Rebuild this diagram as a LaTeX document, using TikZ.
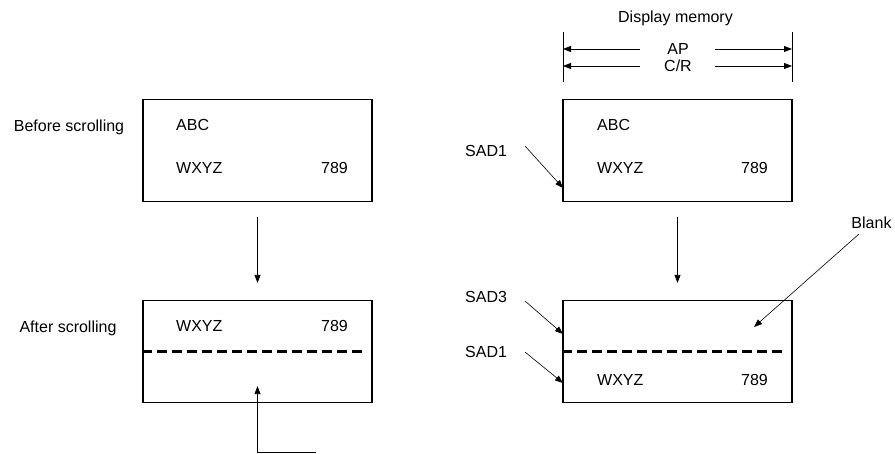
\documentclass[tikz,border=0pt]{standalone}
\usepackage{fontspec}
\setmainfont{Liberation Sans}
\usetikzlibrary{arrows.meta}
\begin{document}
\begin{tikzpicture}[x=1pt,y=-1pt,
  every node/.style={font=\fontsize{16}{19}\selectfont, inner sep=0pt},
  box/.style={draw, line width=1.2pt, minimum width=229pt, minimum height=102pt, inner sep=0pt},
  arr/.style={line width=0.8pt, -{Triangle[length=8pt,width=6pt]}},
  sarr/.style={line width=0.6pt, -{Triangle[length=8pt,width=6pt]}},
  dashline/.style={line width=2.5pt, dash pattern=on 10pt off 5pt},
  lbl/.style={anchor=base west},
  rlbl/.style={anchor=base east},
]
\useasboundingbox (0,0) rectangle (895,453);

% boxes
\node[box] (b1) at (257.5,150.5) {};
\node[box] (b2) at (257.5,351.5) {};
\node[box] (b3) at (677.5,150.5) {};
\node[box] (b4) at (677.5,351.5) {};

% left side labels
\node[anchor=base] (before) at (69,131.7) {Before scrolling};
\node[anchor=base] (after) at (68,332.7) {After scrolling};

% box contents
\node[lbl] (abc1) at (176,130.7) {ABC};
\node[lbl] (wx1) at (176,173.7) {WXYZ};
\node[rlbl] (n1) at (348,173.7) {789};
\node[lbl] (wx2) at (176,331.7) {WXYZ};
\node[rlbl] (n2) at (348,331.7) {789};
\node[lbl] (abc3) at (597,130.7) {ABC};
\node[lbl] (wx3) at (597,173.7) {WXYZ};
\node[rlbl] (n3) at (768,173.7) {789};
\node[lbl] (wx4) at (597,385.7) {WXYZ};
\node[rlbl] (n4) at (768,385.7) {789};

% dashed lines
\draw[dashline] (b2.west) -- ([xshift=-7pt]b2.east);
\draw[dashline] (b4.west) -- ([xshift=-7pt]b4.east);

% vertical arrows between boxes
\draw[arr] ([yshift=-15pt]b1.south) -- ([yshift=17pt]b2.north);
\draw[arr] ([yshift=-15pt]b3.south) -- ([yshift=17pt]b4.north);

% bottom arrow
\coordinate (c1) at (316,452);
\draw[arr] (c1) -| ([yshift=17pt]b2.south);

% display memory
\node[anchor=base] (dm) at (675.5,22.7) {Display memory};
\coordinate (v1t) at (563,32);
\coordinate (v1b) at (563,82);
\coordinate (v2t) at (792,32);
\coordinate (v2b) at (792,82);
\draw[line width=1pt] (v1t) -- (v1b);
\draw[line width=1pt] (v2t) -- (v2b);
\node (ap) at (678,49) {AP};
\node[anchor=base] (cr) at (678,71.7) {C/R};
\coordinate (apc) at (678,49);
\coordinate (crc) at (678,66);
\draw[arr] ([xshift=-38pt]apc) -- (apc -| v1t);
\draw[arr] ([xshift=37pt]apc) -- (apc -| v2t);
\draw[arr] ([xshift=-38pt]crc) -- (crc -| v1t);
\draw[arr] ([xshift=37pt]crc) -- (crc -| v2t);

% SAD labels
\node[lbl] (sad1a) at (465,156.7) {SAD1};
\node[lbl] (sad3) at (465,302.7) {SAD3};
\node[lbl] (sad1b) at (465,357.7) {SAD1};
\coordinate (s1) at (525,146);
\coordinate (s3) at (525,301);
\coordinate (s1b) at (525,352);
\draw[sarr] (s1) -- (563,188);
\draw[sarr] (s3) -- (563,334);
\draw[sarr] (s1b) -- (563,383);

% Blank
\node[anchor=base] (blank) at (871.5,228.7) {Blank};
\coordinate (bl) at (859,234);
\coordinate (blt) at (754,327);
\draw[sarr] (bl) -- (blt);
\end{tikzpicture}
\end{document}
